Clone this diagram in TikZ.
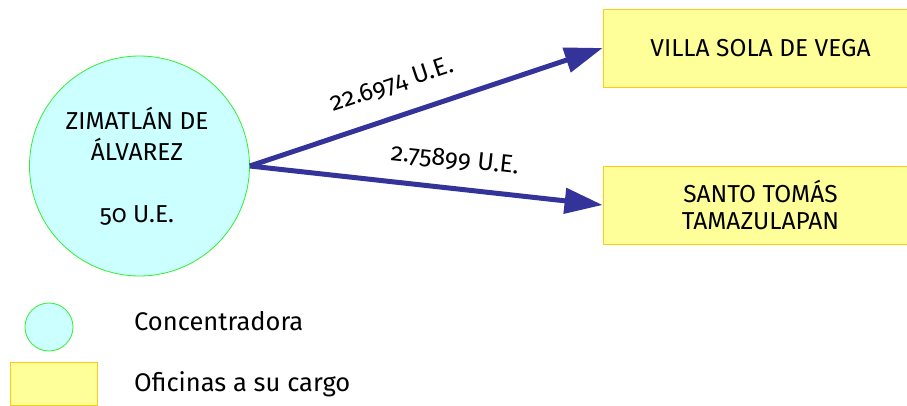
\documentclass[tikz,border=0pt]{standalone}
\usepackage{fontspec}
\setmainfont[Numbers=OldStyle]{Fira Sans}
\usetikzlibrary{arrows.meta}
\definecolor{cfill}{HTML}{CCFFFF}
\definecolor{cline}{HTML}{33EE33}
\definecolor{bfill}{HTML}{FFFF99}
\definecolor{bline}{HTML}{FFCC11}
\definecolor{arr}{HTML}{333399}
\tikzset{
  conc/.style={circle, draw=cline, fill=cfill, line width=0.8pt, inner sep=0pt},
  office/.style={rectangle, draw=bline, fill=bfill, line width=0.8pt, inner sep=0pt, align=center, font=\fontsize{24.5}{27}\selectfont},
  flow/.style={draw=arr, line width=5pt, -{Triangle[length=38pt,width=25pt]}},
  lbl/.style={font=\fontsize{25}{27}\selectfont, inner sep=0pt},
  legtext/.style={font=\fontsize{25.5}{27}\selectfont, anchor=base west, inner sep=0pt}
}
\begin{document}
\begin{tikzpicture}[x=1pt,y=-1pt]
\useasboundingbox (0,0) rectangle (907,406);
\clip (0,0) rectangle (907,406);
\node[conc, minimum size=220pt] (z) at (139.5,166) {};
\node[align=center, font=\fontsize{24.5}{31}\selectfont, inner sep=0pt] (zt) at (137,166) {ZIMATLÁN DE\\ÁLVAREZ\\[31pt]50 U.E.};
\node[office, minimum width=315pt, minimum height=78pt] (b1) at (760.5,48) {VILLA SOLA DE VEGA};
\node[office, minimum width=315pt, minimum height=78pt] (b2) at (760.5,205) {SANTO TOMÁS\\TAMAZULAPAN};
\draw[flow] (z.east) -- (b1.west);
\draw[flow] (z.east) -- (b2.west);
\node[lbl, rotate=18.3] (l1) at (392,85) {22.6974 U.E.};
\node[lbl, rotate=-6.1] (l2) at (455,160) {2.75899 U.E.};
\node[conc, minimum size=48pt] (lc) at (49,327) {};
\node[rectangle, draw=bline, fill=bfill, line width=0.8pt, minimum width=87pt, minimum height=43pt, inner sep=0pt] (lb) at (53.5,383.5) {};
\node[legtext] (t1) at (134,330.7) {Concentradora};
\node[legtext] (t2) at (134,391.7) {Oficinas a su cargo};
\end{tikzpicture}
\end{document}
